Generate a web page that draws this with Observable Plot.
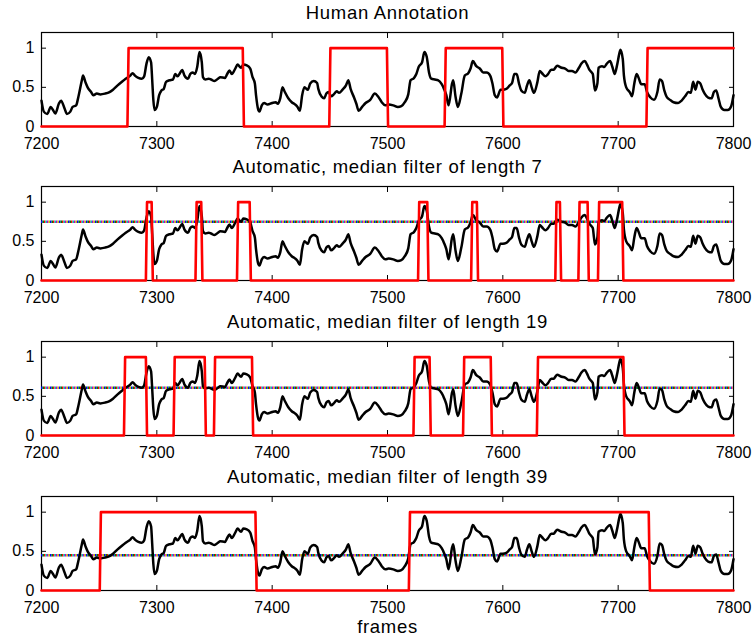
<!DOCTYPE html>
<html><head><meta charset="utf-8">
<script src="https://cdn.jsdelivr.net/npm/d3@7"></script>
<script src="https://cdn.jsdelivr.net/npm/@observablehq/plot@0.6"></script>
<style>
body{margin:0;background:#fff;width:753px;height:639px;overflow:hidden}
#chart svg{display:block}
</style></head><body><div id="chart"></div>
<script>
// ---- data ----
const frames = [7200,7202,7205,7208,7210,7212,7215,7217,7220,7222,7225,7227,7230,7232,7235,7236,7238,7240,7243,7245,7248,7251,7255,7259,7262,7266,7270,7273,7277,7279,7281,7284,7287,7289,7291,7293,7295,7296,7297,7298,7300,7302,7304,7306,7308,7311,7314,7316,7318,7320,7322,7324,7327,7329,7331,7333,7335,7337,7339,7340,7342,7345,7347,7350,7353,7355,7359,7361,7363,7365,7368,7370,7373,7375,7378,7381,7383,7385,7386,7388,7389,7391,7393,7396,7400,7403,7405,7407,7409,7411,7414,7417,7420,7422,7424,7426,7428,7431,7433,7436,7439,7440,7443,7445,7447,7449,7451,7454,7456,7458,7461,7464,7466,7468,7471,7473,7475,7478,7481,7485,7489,7492,7495,7498,7501,7505,7509,7512,7515,7518,7520,7523,7525,7527,7530,7532,7534,7536,7538,7541,7544,7547,7549,7551,7553,7556,7557,7559,7561,7564,7567,7570,7572,7574,7577,7580,7583,7586,7589,7591,7593,7595,7598,7600,7603,7606,7608,7610,7612,7614,7616,7619,7621,7623,7625,7627,7630,7632,7634,7637,7639,7642,7644,7647,7651,7654,7657,7660,7663,7666,7668,7671,7673,7675,7678,7679,7680,7682,7683,7686,7688,7690,7693,7695,7697,7699,7701,7702,7704,7705,7707,7710,7712,7714,7716,7718,7720,7723,7725,7728,7731,7734,7736,7738,7740,7742,7745,7748,7752,7755,7758,7761,7763,7765,7767,7769,7771,7773,7775,7778,7781,7783,7785,7787,7789,7792,7795,7798,7800];
const values = [0.33,0.19,0.16,0.25,0.21,0.165,0.29,0.33,0.23,0.16,0.19,0.25,0.27,0.38,0.59,0.65,0.57,0.50,0.44,0.40,0.42,0.41,0.42,0.44,0.47,0.525,0.575,0.61,0.65,0.68,0.65,0.62,0.61,0.64,0.80,0.885,0.82,0.59,0.335,0.21,0.25,0.40,0.46,0.48,0.57,0.59,0.60,0.67,0.64,0.68,0.72,0.65,0.61,0.67,0.69,0.67,0.76,0.95,0.82,0.63,0.60,0.61,0.60,0.58,0.61,0.63,0.62,0.67,0.715,0.67,0.74,0.79,0.75,0.79,0.78,0.74,0.63,0.55,0.40,0.21,0.19,0.27,0.30,0.28,0.30,0.31,0.29,0.36,0.50,0.44,0.36,0.31,0.28,0.25,0.20,0.40,0.50,0.47,0.55,0.58,0.555,0.48,0.38,0.36,0.42,0.44,0.385,0.42,0.45,0.43,0.47,0.525,0.59,0.48,0.37,0.29,0.20,0.25,0.30,0.34,0.42,0.38,0.31,0.27,0.28,0.27,0.25,0.26,0.31,0.41,0.59,0.62,0.67,0.76,0.82,0.95,0.89,0.69,0.61,0.60,0.59,0.54,0.48,0.40,0.27,0.55,0.59,0.38,0.25,0.42,0.65,0.68,0.74,0.835,0.77,0.74,0.69,0.69,0.65,0.55,0.40,0.37,0.47,0.47,0.48,0.525,0.555,0.67,0.67,0.55,0.46,0.43,0.525,0.59,0.50,0.43,0.57,0.71,0.68,0.64,0.665,0.725,0.725,0.775,0.75,0.74,0.71,0.71,0.69,0.75,0.80,0.835,0.79,0.725,0.67,0.55,0.46,0.55,0.75,0.77,0.76,0.80,0.835,0.76,0.67,0.78,0.93,0.98,0.86,0.65,0.50,0.44,0.385,0.55,0.67,0.61,0.54,0.54,0.44,0.37,0.34,0.44,0.60,0.58,0.46,0.38,0.34,0.31,0.30,0.33,0.385,0.44,0.43,0.57,0.47,0.57,0.555,0.48,0.42,0.37,0.36,0.44,0.46,0.36,0.25,0.21,0.21,0.26,0.40];

const titles = ["Human Annotation","Automatic, median filter of length 7","Automatic, median filter of length 19","Automatic, median filter of length 39"];
const pulsesHuman = [[7275,7375],[7450,7500],[7550,7600],[7725,7800]];
const pulses7 = [[7291,7296],[7334,7339],[7370,7381],[7527,7535],[7573,7578],[7646,7650],[7666,7674],[7683,7704]];
const pulses19 = [[7272,7291],[7315,7342],[7350,7383],[7523,7537],[7566,7590],[7630,7705]];
const pulses39 = [[7251,7386],[7519,7727]];
const pulseSets = [pulsesHuman, pulses7, pulses19, pulses39];
const thresholds = [null, 0.75, 0.61, 0.45];
const xTicks = [7200,7300,7400,7500,7600,7700,7800];
const yTicks = [0,0.5,1];
const yTickLabels = ["0","0.5","1"];
const xLabel = "frames";
const dotColors = ["#0000ff","#008000","#ff0000","#00bfbf","#bf00bf","#bfbf00"];

// ---- build ----
const curve = frames.map((f,i)=>({f, v: values[i]}));
function steps(pulses){
  const pts=[{f:7200,v:0}];
  let last=0;
  for(const [a,b] of pulses){
    pts.push({f:a-0.5,v:0},{f:a+0.5,v:1});
    if(b>=7800){pts.push({f:7800,v:1}); last=1;}
    else {pts.push({f:b-0.5,v:1},{f:b+0.5,v:0}); last=0;}
  }
  if(last===0) pts.push({f:7800,v:0});
  return pts;
}
const heights=[154,155,155,175];
const container=document.getElementById("chart");
titles.forEach((title,k)=>{
  const isLast = k===3;
  const marks=[
    Plot.frame({stroke:"black",strokeWidth:1.2}),
    Plot.axisX(xTicks,{anchor:"bottom",tickSize:0,tickPadding:11,tickFormat:d=>String(d),label:null,fontSize:16}),
    Plot.axisX(xTicks,{anchor:"bottom",tickSize:-5,tickFormat:()=>"",label:null}),
    Plot.axisX(xTicks,{anchor:"top",tickSize:-5,tickFormat:()=>"",label:null}),
    Plot.axisY(yTicks,{anchor:"left",tickSize:0,tickPadding:7,tickFormat:d=>yTickLabels[yTicks.indexOf(d)],label:null,fontSize:16}),
    Plot.axisY(yTicks,{anchor:"left",tickSize:-5,tickFormat:()=>"",label:null}),
    Plot.axisY(yTicks,{anchor:"right",tickSize:-5,tickFormat:()=>"",label:null}),
  ];
  if(thresholds[k]!=null){
    dotColors.forEach((c,i)=>{
      marks.push(Plot.ruleY([thresholds[k]],{stroke:c,strokeWidth:2.4,strokeDasharray:"1.5,7.5",strokeDashoffset:-i*1.5}));
    });
  }
  marks.push(Plot.line(curve,{x:"f",y:"v",stroke:"black",strokeWidth:2.5,curve:"monotone-x"}));
  marks.push(Plot.line(steps(pulseSets[k]),{x:"f",y:"v",stroke:"#ff0000",strokeWidth:2.6}));
  marks.push(Plot.text([title],{frameAnchor:"top",dy:-19.5,text:d=>d,fontSize:18.5,fill:"black",lineAnchor:"middle"}));
  if(isLast) marks.push(Plot.text([xLabel],{frameAnchor:"bottom",dy:37,text:d=>d,fontSize:18.5,fill:"black",lineAnchor:"middle"}));
  const svg=Plot.plot({
    width:753,height:heights[k],
    marginTop:32,marginBottom:heights[k]-32-94,marginLeft:41,marginRight:20,
    x:{domain:[7200,7800]},
    y:{domain:[0,1.2]},
    style:{fontFamily:"'Liberation Sans', Arial, sans-serif",fontSize:"16px",color:"black",background:"white"},
    marks
  });
  d3.select(svg).selectAll('g[aria-label="text"] text').style("letter-spacing","0.7px");
  container.appendChild(svg);
});
</script></body></html>
